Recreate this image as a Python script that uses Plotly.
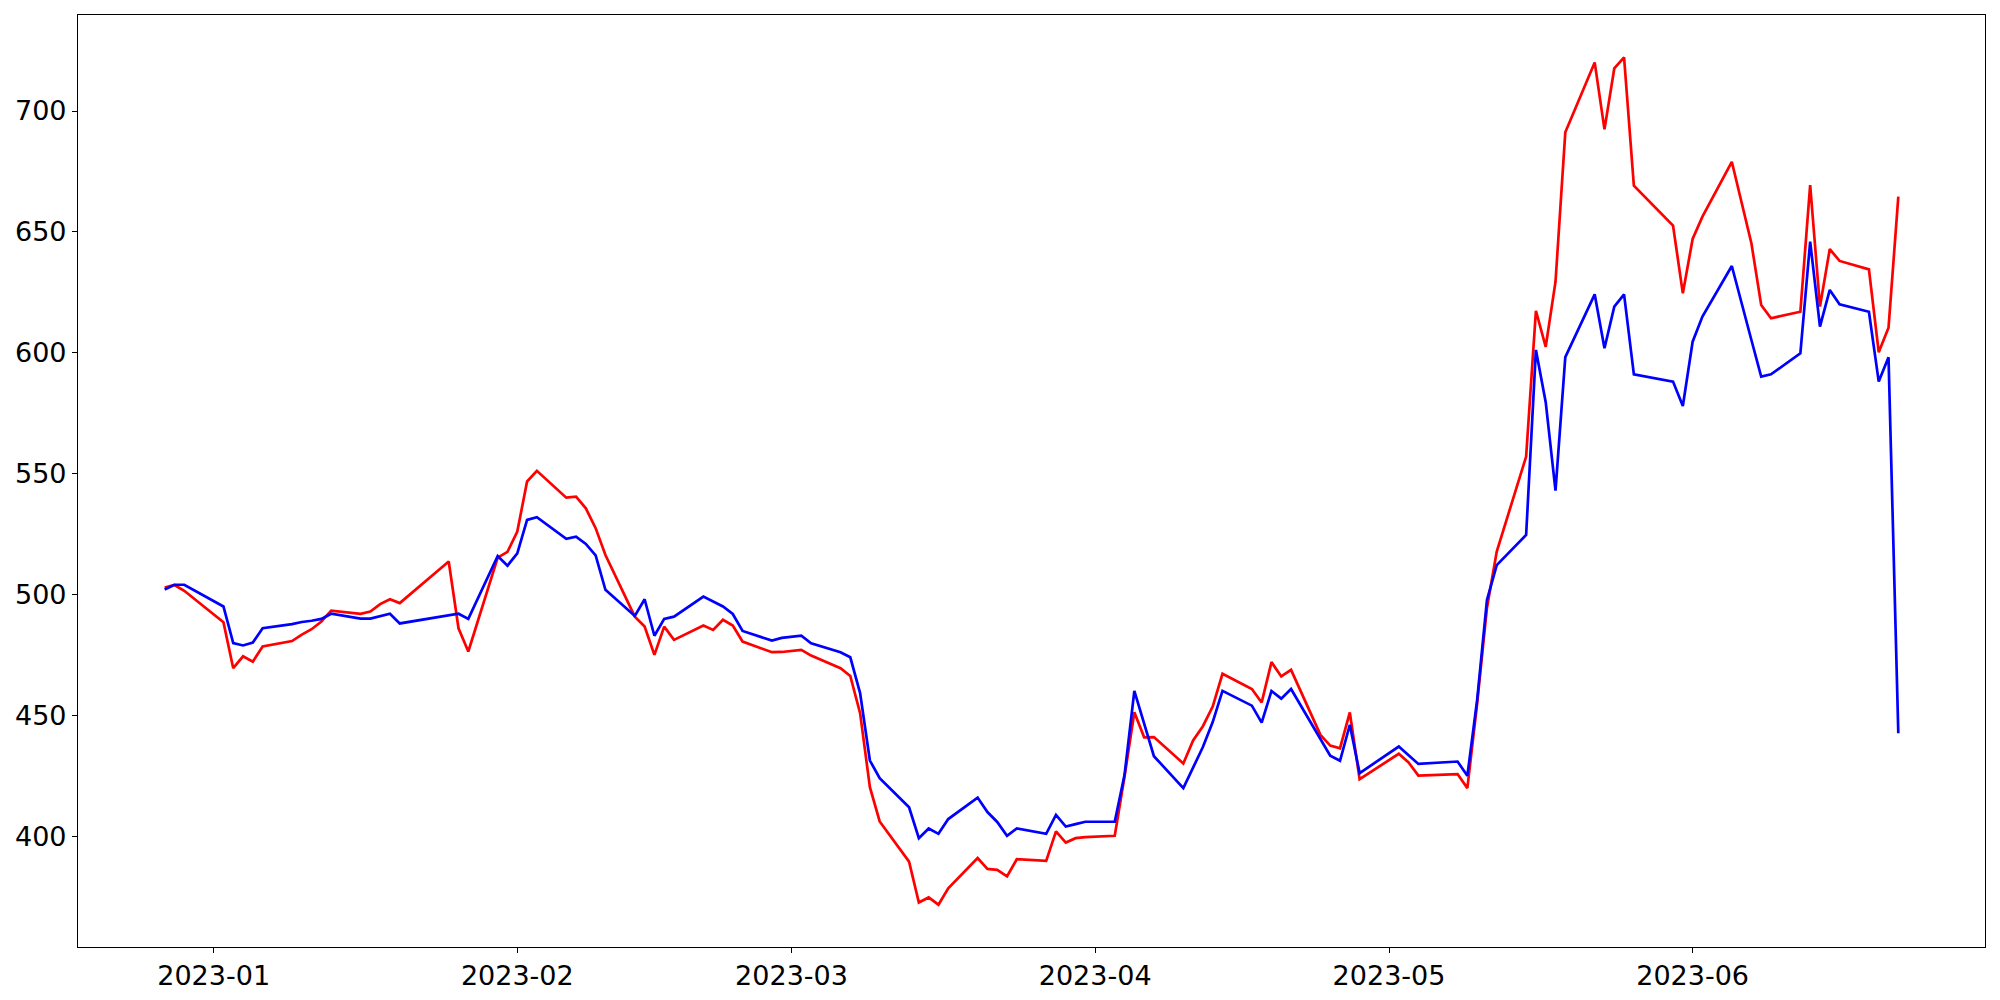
import plotly.graph_objects as go

dates = [
    "2022-12-27", "2022-12-28", "2022-12-29",
    "2023-01-02", "2023-01-03", "2023-01-04", "2023-01-05", "2023-01-06",
    "2023-01-09", "2023-01-10", "2023-01-11", "2023-01-12", "2023-01-13",
    "2023-01-16", "2023-01-17", "2023-01-18", "2023-01-19", "2023-01-20",
    "2023-01-25", "2023-01-26", "2023-01-27", "2023-01-30", "2023-01-31",
    "2023-02-01", "2023-02-02", "2023-02-03", "2023-02-06", "2023-02-07",
    "2023-02-08", "2023-02-09", "2023-02-10", "2023-02-13", "2023-02-14",
    "2023-02-15", "2023-02-16", "2023-02-17", "2023-02-20", "2023-02-21",
    "2023-02-22", "2023-02-23", "2023-02-24", "2023-02-27", "2023-02-28",
    "2023-03-02", "2023-03-03", "2023-03-06", "2023-03-07", "2023-03-08",
    "2023-03-09", "2023-03-10", "2023-03-13", "2023-03-14", "2023-03-15",
    "2023-03-16", "2023-03-17", "2023-03-20", "2023-03-21", "2023-03-22",
    "2023-03-23", "2023-03-24", "2023-03-27", "2023-03-28", "2023-03-29",
    "2023-03-30", "2023-03-31",
    "2023-04-03", "2023-04-04", "2023-04-05", "2023-04-06", "2023-04-07",
    "2023-04-10", "2023-04-11", "2023-04-12", "2023-04-13", "2023-04-14",
    "2023-04-17", "2023-04-18", "2023-04-19", "2023-04-20", "2023-04-21",
    "2023-04-24", "2023-04-25", "2023-04-26", "2023-04-27", "2023-04-28",
    "2023-05-02", "2023-05-03", "2023-05-04", "2023-05-08", "2023-05-09",
    "2023-05-10", "2023-05-11", "2023-05-12", "2023-05-15", "2023-05-16",
    "2023-05-17", "2023-05-18", "2023-05-19", "2023-05-22", "2023-05-23",
    "2023-05-24", "2023-05-25", "2023-05-26", "2023-05-30", "2023-05-31",
    "2023-06-01", "2023-06-02", "2023-06-05", "2023-06-07", "2023-06-08",
    "2023-06-09", "2023-06-12", "2023-06-13", "2023-06-14", "2023-06-15",
    "2023-06-16", "2023-06-19", "2023-06-20", "2023-06-21", "2023-06-22",
]

red_values = [
    502.9, 504.0, 501.6,
    488.6, 469.6, 474.5, 472.3, 478.6,
    480.8, 483.5, 485.7, 488.9, 493.4,
    492.1, 493.0, 496.1, 498.1, 496.5,
    513.7, 486.1, 476.5, 515.3, 517.7,
    526.1, 546.8, 551.2, 540.1, 540.5,
    535.7, 527.5, 516.4, 490.9, 486.8,
    475.1, 486.8, 481.3, 487.2, 485.4,
    489.6, 487.2, 480.6, 476.2, 476.3,
    477.2, 474.8, 469.6, 466.4, 451.0,
    420.4, 406.2, 389.6, 372.7, 374.8,
    371.8, 378.6, 391.1, 386.6, 386.2,
    383.5, 390.6, 389.9, 402.1, 397.5,
    399.3, 399.7,
    400.3, 424.8, 451.4, 441.0, 441.1,
    430.2, 439.7, 445.6, 453.7, 467.3,
    461.0, 455.4, 472.1, 466.2, 468.9,
    442.0, 437.6, 436.5, 451.3, 423.7,
    434.2, 430.6, 425.2, 425.8, 420.0,
    455.0, 494.5, 517.8, 557.1, 617.4,
    602.5, 629.4, 691.2, 720.1, 692.4,
    717.6, 722.2, 669.1, 652.6, 624.6,
    647.1, 656.3, 679.0, 645.3, 619.8,
    614.3, 617.0, 669.4, 619.1, 642.9,
    638.0, 634.5, 600.2, 610.4, 664.6,
]

blue_values = [
    502.1, 504.1, 504.1,
    495.1, 480.0, 479.0, 480.2, 486.1,
    487.8, 488.7, 489.2, 490.0, 492.1,
    490.1, 490.1, 491.1, 492.1, 488.1,
    491.5, 492.1, 490.0, 516.0, 512.0,
    517.1, 530.9, 532.0, 523.1, 524.0,
    521.0, 516.2, 502.0, 491.2, 498.1,
    483.0, 490.0, 490.9, 499.2, 497.1,
    495.1, 492.0, 485.0, 481.0, 482.1,
    483.0, 479.9, 476.2, 474.1, 459.3,
    431.4, 424.1, 412.1, 399.3, 403.3,
    401.1, 407.2, 416.1, 410.1, 406.0,
    400.3, 403.3, 401.1, 408.9, 404.1,
    405.1, 406.1,
    406.1, 425.5, 460.2, 446.8, 433.2,
    420.0, 428.3, 437.0, 447.3, 460.2,
    454.1, 447.1, 460.2, 457.0, 461.0,
    440.7, 433.4, 431.3, 446.2, 426.2,
    437.2, 433.6, 430.0, 431.0, 425.1,
    456.5, 497.8, 512.2, 524.7, 601.2,
    579.6, 543.0, 598.2, 624.2, 601.9,
    619.1, 624.2, 591.1, 588.1, 578.0,
    604.6, 615.0, 635.9, 605.3, 590.2,
    591.1, 599.8, 646.0, 610.8, 626.0,
    620.1, 617.0, 588.1, 598.2, 442.7,
]

y_ticks = [400, 450, 500, 550, 600, 650, 700]

fig = go.Figure()
fig.add_trace(go.Scatter(x=dates, y=red_values, mode="lines",
                         line=dict(color="#ff0000", width=2.7), showlegend=False))
fig.add_trace(go.Scatter(x=dates, y=blue_values, mode="lines",
                         line=dict(color="#0000ff", width=2.7), showlegend=False))

axis_common = dict(
    showgrid=False, zeroline=False, automargin=False,
    showline=True, mirror=True, linecolor="black", linewidth=1.1,
    ticks="outside", ticklen=5, tickwidth=1.1, tickcolor="black",
    tickfont=dict(family="DejaVu Sans", size=27, color="black"),
)

# The page body has an 8px default margin, so the figure is sized to fit.
fig.update_layout(
    width=1992, height=992,
    margin=dict(l=70, r=15, t=7, b=53),
    paper_bgcolor="white", plot_bgcolor="white",
    xaxis=dict(type="date", range=["2022-12-18 03:36", "2023-06-30 20:24"],
               tickformat="%Y-%m", dtick="M1", tick0="2023-01-01", **axis_common),
    yaxis=dict(range=[354.3, 739.7], tickvals=y_ticks,
               ticktext=[str(v) for v in y_ticks], **axis_common),
)

fig.write_html("out.html")
